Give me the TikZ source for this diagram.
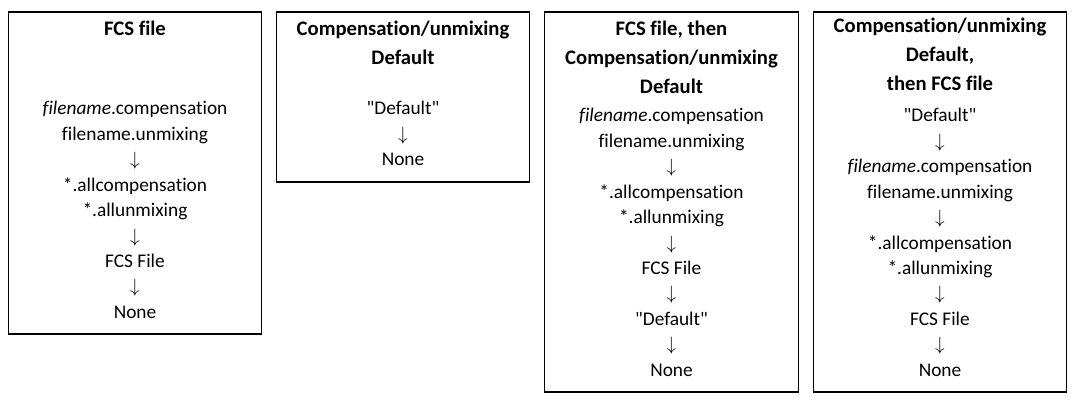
\documentclass[tikz,border=0pt]{standalone}
\usepackage{fontspec}
\setmainfont[Ligatures={NoCommon}]{Carlito}
\usetikzlibrary{positioning}
\newcommand{\dn}{$\downarrow$}
\newcommand{\qt}[1]{\textquotedbl#1\textquotedbl}
\begin{document}
\begin{tikzpicture}[x=0.75pt,y=-0.75pt,
    every node/.style={align=center,inner sep=0pt},
    panel/.style={draw,thick,minimum width=190pt},
    headtext/.style={anchor=north,font=\fontsize{15.5}{21.5}\selectfont\bfseries},
    bodytext/.style={anchor=north,font=\fontsize{14.5}{19.1}\selectfont}
  ]
  \useasboundingbox (0,0) rectangle (1077,402);
  % panels
  \node[panel,minimum height=241.5pt] (P1) at (135,173) {};
  \node[panel,minimum height=127.5pt] (P2) at (403,97) {};
  \node[panel,minimum height=285pt] (P3) at (671.5,202) {};
  \node[panel,minimum height=285pt] (P4) at (940,202) {};
  % titles
  \node[headtext] (T1) at (135,21) {FCS file};
  \node[headtext] (T2) at (403,21) {Compensation/unmixing\\Default};
  \node[headtext] (T3) at (671.5,21) {FCS file, then\\Compensation/unmixing\\Default};
  \node[headtext] (T4) at (940,18) {Compensation/unmixing\\Default,\\then FCS file};
  % contents
  \node[bodytext] (B1) at (135,101) {\emph{filename}.compensation\\filename.unmixing\\\dn\\
    *.allcompensation\\*.allunmixing\\\dn\\FCS File\\\dn\\None};
  \node[bodytext] (B2) at (403,101) {\qt{Default}\\\dn\\None};
  \node[bodytext] (B3) at (671.5,108) {\emph{filename}.compensation\\filename.unmixing\\\dn\\
    *.allcompensation\\*.allunmixing\\\dn\\FCS File\\\dn\\\qt{Default}\\\dn\\None};
  \node[bodytext] (B4) at (940,108) {\qt{Default}\\\dn\\\emph{filename}.compensation\\filename.unmixing\\\dn\\
    *.allcompensation\\*.allunmixing\\\dn\\FCS File\\\dn\\None};
\end{tikzpicture}
\end{document}
